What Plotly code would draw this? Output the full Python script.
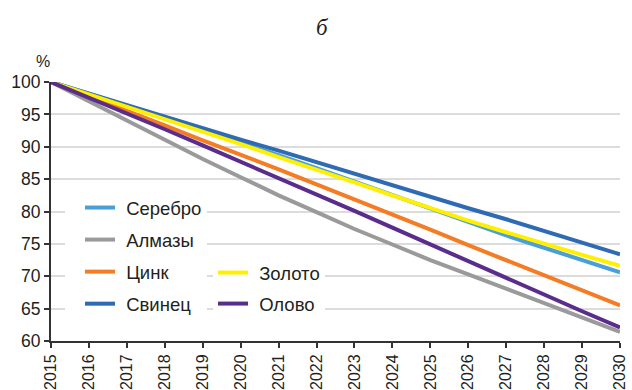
import plotly.graph_objects as go

years = list(range(2015, 2031))

serebro = [100, 98.2, 96.4, 94.5, 92.6, 90.7, 88.7, 86.7, 84.6, 82.5, 80.4, 78.3, 76.3, 74.4, 72.5, 70.6]
almazy = [100, 97.0, 94.0, 91.0, 88.1, 85.3, 82.5, 79.9, 77.3, 74.9, 72.5, 70.3, 68.1, 65.9, 63.6, 61.4]
tsink = [100, 97.8, 95.6, 93.3, 91.0, 88.8, 86.5, 84.2, 81.9, 79.6, 77.2, 74.8, 72.5, 70.1, 67.8, 65.5]
svinets = [100, 98.2, 96.4, 94.7, 92.9, 91.1, 89.4, 87.6, 85.8, 84.1, 82.3, 80.5, 78.8, 77.0, 75.2, 73.4]
zoloto = [100, 98.1, 96.2, 94.2, 92.3, 90.4, 88.4, 86.5, 84.5, 82.5, 80.5, 78.6, 76.8, 75.0, 73.3, 71.6]
olovo = [100, 97.6, 95.2, 92.7, 90.2, 87.7, 85.2, 82.6, 80.1, 77.5, 74.9, 72.3, 69.7, 67.2, 64.6, 62.1]

y_ticks = [60, 65, 70, 75, 80, 85, 90, 95, 100]

series = [
    ("Серебро", serebro, "#4a9fd8", "legend"),
    ("Алмазы", almazy, "#9a9a9a", "legend"),
    ("Цинк", tsink, "#f47c24", "legend"),
    ("Свинец", svinets, "#2f6bb5", "legend"),
    ("Золото", zoloto, "#fff000", "legend2"),
    ("Олово", olovo, "#5a2d8c", "legend2"),
]

FONT = "Liberation Sans, Arial, sans-serif"
TXT = "#231f20"
GAP = "\u2004"  # small space between legend line and its label

fig = go.Figure()
for name, vals, color, leg in series:
    fig.add_trace(go.Scatter(
        x=years, y=vals, name=GAP + name, mode="lines",
        line=dict(color=color, width=4),
        legend=leg, legendgroup=name,
    ))

L, R, T, B = 51, 12, 82, 49
W, H = 632, 390
pw, ph = W - L - R, H - T - B


def px_x(x):
    return (x - L) / pw


def px_y(y):
    return (H - B - y) / ph


legend_font = dict(family=FONT, size=18.5, color=TXT)

fig.update_layout(
    width=W, height=H,
    margin=dict(l=L, r=R, t=T, b=B, autoexpand=False),
    paper_bgcolor="white", plot_bgcolor="white",
    font=dict(family=FONT, size=17, color=TXT),
    showlegend=True,
    legend=dict(
        x=px_x(65), y=px_y(189), xanchor="left", yanchor="top",
        bgcolor="white", borderwidth=0, tracegroupgap=5, indentation=15,
        font=legend_font, traceorder="grouped",
    ),
    legend2=dict(
        x=px_x(213), y=px_y(254), xanchor="left", yanchor="top",
        bgcolor="white", borderwidth=0, tracegroupgap=4,
        font=legend_font, traceorder="grouped",
    ),
    xaxis=dict(
        range=[2015, 2030], tickmode="array", tickvals=years,
        ticktext=[str(y) for y in years], tickangle=-90,
        ticks="outside", ticklen=5, tickwidth=1.5, tickcolor="#333",
        showline=True, linecolor="#333", linewidth=2,
        showgrid=False, zeroline=False, automargin=False,
        tickfont=dict(family=FONT, size=16, color=TXT),
    ),
    yaxis=dict(
        range=[60, 100], tickmode="array", tickvals=y_ticks,
        ticks="outside", ticklen=5, tickwidth=1.5, tickcolor="#333",
        showline=True, linecolor="#333", linewidth=2,
        showgrid=True, gridcolor="#dcdcdc", gridwidth=2,
        zeroline=False, automargin=False,
        tickfont=dict(family=FONT, size=17.5, color=TXT),
    ),
    annotations=[
        dict(text="<i>б</i>", x=px_x(322), y=px_y(28), xref="paper", yref="paper",
             showarrow=False, xanchor="center", yanchor="middle",
             font=dict(family="Liberation Serif, Times New Roman, serif", size=23,
                       color=TXT)),
        dict(text="%", x=px_x(43), y=px_y(62), xref="paper", yref="paper",
             showarrow=False, xanchor="center", yanchor="middle",
             font=dict(family=FONT, size=16, color=TXT)),
    ],
)

fig.write_html("out.html")
